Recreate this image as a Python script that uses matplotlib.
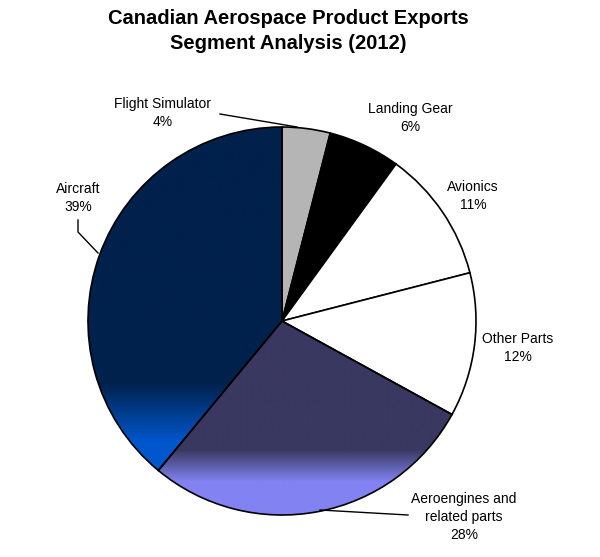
import numpy as np
import matplotlib.pyplot as plt
from matplotlib.colors import to_rgb

plt.rcParams['font.family'] = ['Liberation Sans', 'DejaVu Sans']

# data
segments = ["Flight Simulator", "Landing Gear", "Avionics", "Other Parts",
            "Aeroengines and\nrelated parts", "Aircraft"]
shares = [4, 6, 11, 12, 28, 39]
fills = ["#b5b5b5", "#000000", "#ffffff", "#ffffff", "#393861", "#00214b"]

W, H = 600, 557
fig = plt.figure(figsize=(6, 5.57), dpi=100)
ax = fig.add_axes([0, 0, 1, 1])


def fy(y):
    # image y (down) -> data y (up)
    return H - y


cx, cy, r = 282, 321, 194
wedges, _ = ax.pie(shares, colors=fills, startangle=90, counterclock=False,
                   center=(cx, fy(cy)), radius=r,
                   wedgeprops=dict(edgecolor="black", linewidth=1.2))
ax.set_xlim(0, W)
ax.set_ylim(0, H)
ax.set_aspect("equal")
ax.axis("off")


def gradient(wedge, c_top, c_bot, y0, y1):
    # vertical gradient filled inside a wedge, y0..y1 is the blend band (image y)
    ys = np.arange(cy - r - 2, cy + r + 3)
    t = np.clip((ys - y0) / (y1 - y0), 0, 1)[:, None]
    a, b = np.array(to_rgb(c_top)), np.array(to_rgb(c_bot))
    img = (a * (1 - t) + b * t)[:, None, :]
    im = ax.imshow(img, extent=(cx - r - 2, cx + r + 2, fy(ys[-1]), fy(ys[0])),
                   origin="upper", aspect="auto", zorder=0.5, interpolation="bilinear")
    im.set_clip_path(wedge)
    wedge.set_facecolor("none")
    wedge.set_zorder(1)


gradient(wedges[4], "#393861", "#8282f2", 450, 482)
gradient(wedges[5], "#00214b", "#0056cc", 383, 442)
ax.set_xlim(0, W)
ax.set_ylim(0, H)

# title
ax.text(288, fy(31), "Canadian Aerospace Product Exports\nSegment Analysis (2012)",
        ha="center", va="center", fontsize=14.5, fontweight="bold", linespacing=1.45)

# labels
label_pos = [(163, 113), (410, 118), (473, 196), (518, 348), (464, 517), (78, 198)]
for name, pct, (lx, ly) in zip(segments, shares, label_pos):
    ax.text(lx, fy(ly), f"{name}\n{pct}%", ha="center", va="center",
            fontsize=10, linespacing=1.4)

# leader lines
ax.plot([220, 297], [fy(114), fy(127)], color="black", lw=1)
ax.plot([78, 78, 98], [fy(220), fy(232), fy(253)], color="black", lw=1)
ax.plot([320, 408], [fy(510), fy(515)], color="black", lw=1)

fig.savefig("out.png", dpi=100, facecolor="white")
